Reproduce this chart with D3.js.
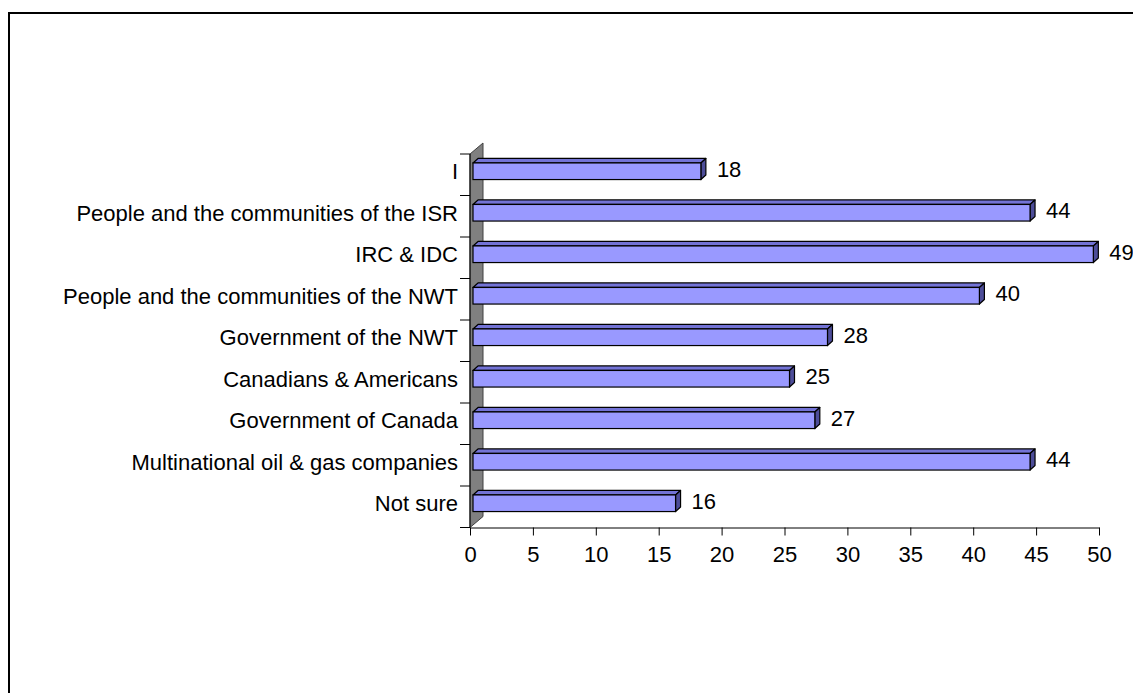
<!DOCTYPE html>
<html>
<head>
<meta charset="utf-8">
<script src="https://cdn.jsdelivr.net/npm/d3@7"></script>
<style>
  html, body { margin: 0; padding: 0; background: #fff; overflow: hidden; }
  svg { display: block; font-family: Arial, "Liberation Sans", sans-serif; }
</style>
</head>
<body>
<svg id="chart" width="1133" height="693"></svg>
<script>
// Survey responses, top row first
const categories = [
  "I",
  "People and the communities of the ISR",
  "IRC & IDC",
  "People and the communities of the NWT",
  "Government of the NWT",
  "Canadians & Americans",
  "Government of Canada",
  "Multinational oil & gas companies",
  "Not sure"
];
const values = [18, 44, 49, 40, 28, 25, 27, 44, 16];
const tickValues = [0, 5, 10, 15, 20, 25, 30, 35, 40, 45, 50];

const svg = d3.select("#chart");
const fontSize = 22;

// outer frame (right and bottom edges fall outside the view)
svg.append("rect")
  .attr("x", 9).attr("y", 13)
  .attr("width", 1200).attr("height", 800)
  .attr("fill", "none").attr("stroke", "#000").attr("stroke-width", 2);

// value axis on the front edge of the floor
const x = d3.scaleLinear().domain([0, 50]).range([470, 1099]);
// value scale in the plane where the bars stand
const xBar = d3.scaleLinear().domain([0, 50]).range([473, 1106]);
const y = d3.scaleBand().domain(categories).range([154, 527.5]);

const axisY = 527.5;
const wallDepth = [13, -11];   // oblique depth of the side wall
const barFront = [3, -3.5];    // bar front plane offset
const barDepth = [5, -4.5];    // bar thickness in depth
const barH = 16.6;

// side wall
const wallTop = y.range()[0];
svg.append("path")
  .attr("d", `M${x(0)},${wallTop} L${x(0) + wallDepth[0]},${wallTop + wallDepth[1]}
              L${x(0) + wallDepth[0]},${axisY + wallDepth[1]} L${x(0)},${axisY} Z`)
  .attr("fill", "#808080").attr("stroke", "#404040").attr("stroke-width", 1);

// category axis ticks
const catTicks = categories.map(c => y(c)).concat([y.range()[1]]);
svg.append("g").selectAll("line").data(catTicks).join("line")
  .attr("x1", x(0) - 10).attr("x2", x(0))
  .attr("y1", d => d).attr("y2", d => d)
  .attr("stroke", "#000").attr("stroke-width", 1);
svg.append("line")
  .attr("x1", x(0)).attr("x2", x(0))
  .attr("y1", wallTop).attr("y2", axisY)
  .attr("stroke", "#000").attr("stroke-width", 1);

// category labels
svg.append("g").selectAll("text").data(categories).join("text")
  .attr("x", 458)
  .attr("y", d => y(d) + y.bandwidth() / 2 - 3)
  .attr("text-anchor", "end")
  .attr("dominant-baseline", "central")
  .attr("font-size", fontSize)
  .text(d => d);

// value axis
const xAxis = d3.axisBottom(x).tickValues(tickValues).tickSize(8).tickPadding(11).tickSizeOuter(0);
const gx = svg.append("g").attr("transform", `translate(0,${axisY})`).call(xAxis);
gx.select(".domain").attr("stroke", "#000");
gx.selectAll(".tick line").attr("stroke", "#000");
gx.selectAll(".tick text").attr("font-size", fontSize).attr("fill", "#000")
  .attr("font-family", "Arial, 'Liberation Sans', sans-serif");

// 3D bars
const bars = svg.append("g");
categories.forEach((c, i) => {
  const v = values[i];
  const cy = y(c) + y.bandwidth() / 2 + barFront[1];
  const x0 = xBar(0), x1 = xBar(v);
  const top = cy - barH / 2, bot = cy + barH / 2;
  const dx = barDepth[0], dy = barDepth[1];
  // top face
  bars.append("path")
    .attr("d", `M${x0},${top} L${x0 + dx},${top + dy} L${x1 + dx},${top + dy} L${x1},${top} Z`)
    .attr("fill", "#7373d6").attr("stroke", "#000").attr("stroke-width", 1.2).attr("stroke-linejoin", "round");
  // end face
  bars.append("path")
    .attr("d", `M${x1},${top} L${x1 + dx},${top + dy} L${x1 + dx},${bot + dy} L${x1},${bot} Z`)
    .attr("fill", "#4d4d99").attr("stroke", "#000").attr("stroke-width", 1.2).attr("stroke-linejoin", "round");
  // front face
  bars.append("rect")
    .attr("x", x0).attr("y", top).attr("width", x1 - x0).attr("height", barH)
    .attr("fill", "#9999ff").attr("stroke", "#000").attr("stroke-width", 1.2);
  // value label
  bars.append("text")
    .attr("x", x1 + dx + 11)
    .attr("y", cy - 2)
    .attr("dominant-baseline", "central")
    .attr("font-size", fontSize)
    .text(v);
});
</script>
</body>
</html>
